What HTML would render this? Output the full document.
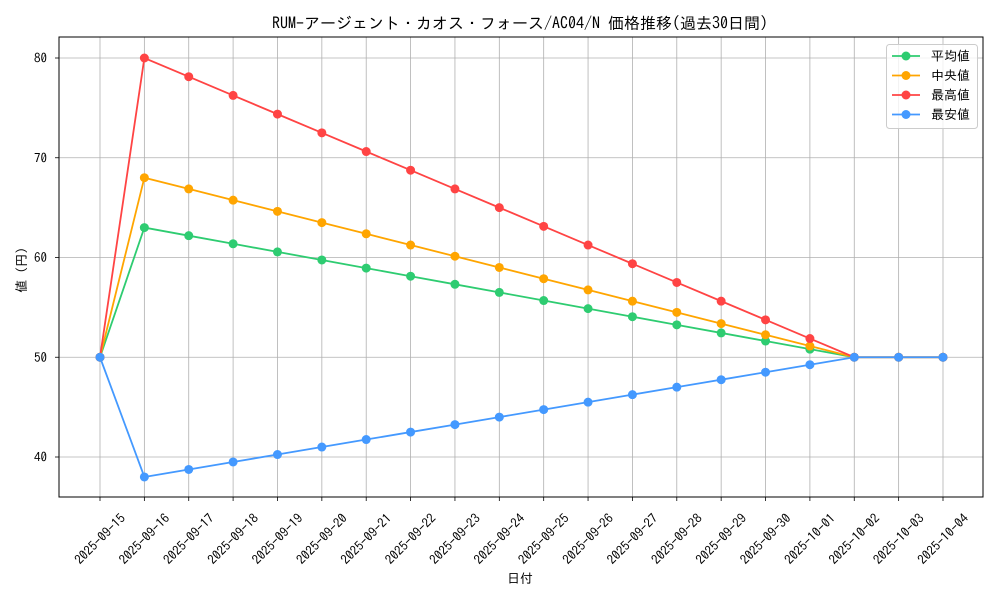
<!DOCTYPE html>
<html><head><meta charset="utf-8"><style>
html,body{margin:0;padding:0;background:#fff}
svg{display:block;font-family:"IPAGothic","IPAゴシック","Liberation Mono","Noto Sans CJK JP",monospace}
</style></head><body>
<svg id="s" width="1000" height="600" viewBox="0 0 1000 600" xmlns="http://www.w3.org/2000/svg"></svg>
<script>
const s=document.getElementById('s');
const X0=100,DX=(943-100)/19;
const Y=v=>457-(v-40)*9.975;
const dates=[];
for(let d=15;d<=30;d++)dates.push('2025-09-'+d);
for(let d=1;d<=4;d++)dates.push('2025-10-0'+d);
let h='';
h+='<rect x="59" y="37" width="924" height="460" fill="#fff"/>';
for(let i=0;i<20;i++){const x=X0+i*DX;h+=`<line x1="${x}" y1="37" x2="${x}" y2="497" stroke="#b0b0b0" stroke-width="0.8"/>`;
h+=`<line x1="${x}" y1="497" x2="${x}" y2="501" stroke="#000" stroke-width="0.8"/>`;
h+=`<text transform="translate(${x},539) rotate(-45)" text-anchor="middle" dominant-baseline="central" font-size="13">${dates[i]}</text>`;}
for(let v=40;v<=80;v+=10){const y=Y(v);h+=`<line x1="59" y1="${y}" x2="983" y2="${y}" stroke="#b0b0b0" stroke-width="0.8"/>`;
h+=`<line x1="55" y1="${y}" x2="59" y2="${y}" stroke="#000" stroke-width="0.8"/>`;
h+=`<text x="47" y="${y+4.5}" text-anchor="end" font-size="13">${v}</text>`;}
function ser(start){const p=[50];for(let i=1;i<=17;i++)p.push(start+(50-start)*(i-1)/16);p.push(50,50);return p;}
const S=[[ser(63),'#2ecc71'],[ser(68),'#ffa500'],[ser(80),'#ff4444'],[ser(38),'#4499ff']];
for(const [p,c] of S){h+=`<polyline fill="none" stroke="${c}" stroke-width="1.8" points="${p.map((v,i)=>(X0+i*DX)+','+Y(v)).join(' ')}"/>`;
for(let i=0;i<p.length;i++)h+=`<circle cx="${X0+i*DX}" cy="${Y(p[i])}" r="4.5" fill="${c}"/>`;}
h+='<rect x="59" y="37" width="924" height="460" fill="none" stroke="#000" stroke-width="1"/>';
h+='<text x="520" y="29" text-anchor="middle" font-size="16">RUM-アージェント・カオス・フォース/AC04/N 価格推移(過去30日間)</text>';
h+='<text x="520" y="583" text-anchor="middle" font-size="13">日付</text>';
h+='<text transform="translate(26,270) rotate(-90)" text-anchor="middle" font-size="13">値 (円)</text>';
h+='<rect x="886.5" y="44.5" width="91" height="84" rx="3" fill="#fff" fill-opacity="0.8" stroke="#ccc"/>';
const L=[['平均値','#2ecc71'],['中央値','#ffa500'],['最高値','#ff4444'],['最安値','#4499ff']];
L.forEach((l,i)=>{const y=56+i*19.5;h+=`<line x1="892" y1="${y}" x2="920" y2="${y}" stroke="${l[1]}" stroke-width="1.8"/><circle cx="906" cy="${y}" r="4.5" fill="${l[1]}"/><text x="931" y="${y+4.5}" font-size="13">${l[0]}</text>`;});
s.innerHTML=h;
</script>
</body></html>
